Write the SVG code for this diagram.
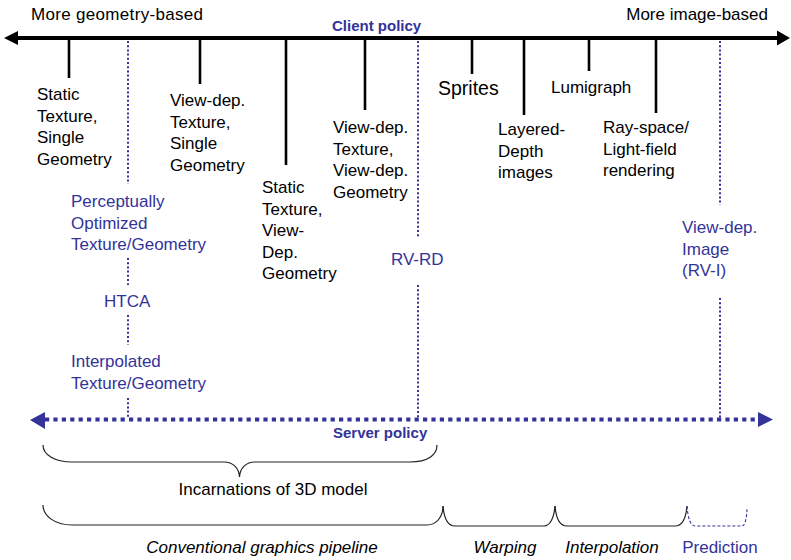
<svg xmlns="http://www.w3.org/2000/svg" width="791" height="560" viewBox="0 0 791 560">
<style>
.t{font-family:"Liberation Sans",Arial,sans-serif;font-size:17px;fill:#000}
.b{fill:#333399}
.bold{font-weight:bold;font-size:15px;fill:#333399}
.it{font-style:italic}
.tick{stroke:#000;stroke-width:2.6;fill:none}
.dot{stroke:#333399;stroke-width:2;stroke-dasharray:2 2.2;fill:none}
.brace{stroke:#222;stroke-width:1.2;fill:none}
</style>
<rect width="791" height="560" fill="#fff"/>
<g id="connectors">
  <line x1="16" y1="38" x2="779" y2="38" stroke="#000" stroke-width="4.2"/>
  <polygon points="4,38 18,31 18,45" fill="#000"/>
  <polygon points="790,38 777,30.5 777,45.5" fill="#000"/>
  <line x1="45" y1="419.5" x2="760" y2="419.5" stroke="#333399" stroke-width="4.2" stroke-dasharray="4.2 4.2"/>
  <polygon points="30,420 45,412 45,429" fill="#333399"/>
  <polygon points="773,419.5 758,412 758,427" fill="#333399"/>
  <line class="tick" x1="69" y1="38" x2="69" y2="78"/>
  <line class="tick" x1="200" y1="38" x2="200" y2="84"/>
  <line class="tick" x1="286" y1="38" x2="286" y2="165"/>
  <line class="tick" x1="365" y1="38" x2="365" y2="110"/>
  <line class="tick" x1="472" y1="38" x2="472" y2="74"/>
  <line class="tick" x1="524" y1="38" x2="524" y2="115"/>
  <line class="tick" x1="589" y1="38" x2="589" y2="71"/>
  <line class="tick" x1="656" y1="38" x2="656" y2="113"/>
  <line class="dot" x1="128" y1="41" x2="128" y2="184"/>
  <line class="dot" x1="128" y1="258" x2="128" y2="285"/>
  <line class="dot" x1="128" y1="315" x2="128" y2="345"/>
  <line class="dot" x1="128" y1="398" x2="128" y2="418"/>
  <line class="dot" x1="418" y1="41" x2="418" y2="238"/>
  <line class="dot" x1="418" y1="285" x2="418" y2="418"/>
  <line class="dot" x1="720" y1="41" x2="720" y2="205"/>
  <line class="dot" x1="720" y1="298" x2="720" y2="418"/>
  <path class="brace" d="M43,445 C43,455 55,462 72,462 L224,462 C233,462 239,468 239.5,477 C240,468 246,462 255,462 L410,462 C428,462 437,455 437,445"/>
  <path class="brace" d="M43,505 C43,516 55,525 72,525 L427,525 C437,525 443,516 443,506"/>
  <path class="brace" d="M443,506 C444,518 448,526 455,526 L544,526 C550,526 554,518 555,506"/>
  <path class="brace" d="M555,506 C556,518 560,526 567,526 L675,526 C682,526 686,518 687,506"/>
  <path d="M687,506 C688,518 690,526 696,526 L742,526 C745,526 747,518 747,507" fill="none" stroke="#333399" stroke-width="1.1" stroke-dasharray="3 2"/>
</g>
<g id="axis-labels">
  <text class="t" x="31" y="20" textLength="172">More geometry-based</text>
  <text class="t" x="768" y="20" text-anchor="end">More image-based</text>
  <text class="t bold" x="332" y="31">Client policy</text>
  <text class="t bold" x="333" y="438">Server policy</text>
</g>
<g id="static-single">
  <text class="t" x="37" y="100">Static</text>
  <text class="t" x="37" y="121.5">Texture,</text>
  <text class="t" x="37" y="143">Single</text>
  <text class="t" x="37" y="164.5">Geometry</text>
</g>
<g id="viewdep-single">
  <text class="t" x="170" y="106">View-dep.</text>
  <text class="t" x="170" y="127.5">Texture,</text>
  <text class="t" x="170" y="149">Single</text>
  <text class="t" x="170" y="170.5">Geometry</text>
</g>
<g id="static-viewdep">
  <text class="t" x="262" y="193">Static</text>
  <text class="t" x="262" y="214.5">Texture,</text>
  <text class="t" x="262" y="236">View-</text>
  <text class="t" x="262" y="257.5">Dep.</text>
  <text class="t" x="262" y="279">Geometry</text>
</g>
<g id="viewdep-viewdep">
  <text class="t" x="333" y="133">View-dep.</text>
  <text class="t" x="333" y="154.5">Texture,</text>
  <text class="t" x="333" y="176">View-dep.</text>
  <text class="t" x="333" y="197.5">Geometry</text>
</g>
<g id="sprites"><text class="t" x="438" y="95" style="font-size:19.5px">Sprites</text></g>
<g id="ldi">
  <text class="t" x="498" y="135">Layered-</text>
  <text class="t" x="498" y="156.5">Depth</text>
  <text class="t" x="498" y="178">images</text>
</g>
<g id="lumigraph"><text class="t" x="551" y="93">Lumigraph</text></g>
<g id="rayspace">
  <text class="t" x="603" y="133">Ray-space/</text>
  <text class="t" x="603" y="154.5">Light-field</text>
  <text class="t" x="603" y="176">rendering</text>
</g>
<g id="perceptual">
  <text class="t b" x="71" y="207">Perceptually</text>
  <text class="t b" x="71" y="228.5">Optimized</text>
  <text class="t b" x="71" y="250">Texture/Geometry</text>
</g>
<g id="htca"><text class="t b" x="104" y="307">HTCA</text></g>
<g id="interpolated">
  <text class="t b" x="71" y="367">Interpolated</text>
  <text class="t b" x="71" y="388.5">Texture/Geometry</text>
</g>
<g id="rvrd"><text class="t b" x="391" y="265">RV-RD</text></g>
<g id="rvi">
  <text class="t b" x="682" y="233">View-dep.</text>
  <text class="t b" x="682" y="254.5">Image</text>
  <text class="t b" x="682" y="276">(RV-I)</text>
</g>
<g id="brace-labels">
  <text class="t" x="273" y="495" text-anchor="middle">Incarnations of 3D model</text>
  <text class="t it" x="262" y="553" text-anchor="middle">Conventional graphics pipeline</text>
  <text class="t it" x="505" y="553" text-anchor="middle">Warping</text>
  <text class="t it" x="612" y="553" text-anchor="middle">Interpolation</text>
  <text class="t b" x="720" y="553" text-anchor="middle">Prediction</text>
</g>
</svg>
